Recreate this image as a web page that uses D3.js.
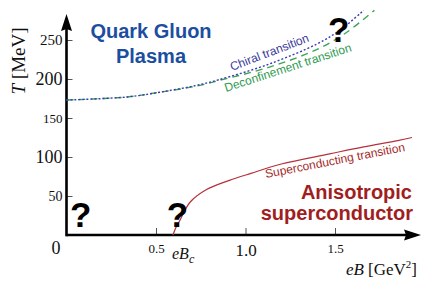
<!DOCTYPE html>
<html lang="en">
<head>
<meta charset="UTF-8">
<title>QCD phase diagram in magnetic field</title>
<style>
body{ margin:0; background:#fff; }
svg{ display:block; }
.serif{ font-family:"Liberation Serif","Times New Roman",serif; fill:#111; }
.sans{ font-family:"Liberation Sans",Arial,sans-serif; }
.tick line{ stroke:#555; stroke-width:1px; }
.tick text{ font-family:"Liberation Serif","Times New Roman",serif; fill:#111; }
</style>
</head>
<body>
<script src="https://cdn.jsdelivr.net/npm/d3@7"></script>
<script>
// ---- data ----
var chiralEB = [0, 0.34, 0.52, 0.73, 0.85, 1.13, 1.40, 1.53, 1.66];
var chiralT  = [173, 177, 183, 192, 199, 219, 245, 263, 288];
var deconfEB = [0, 0.34, 0.52, 0.73, 0.85, 1.13, 1.40, 1.56, 1.72];
var deconfT  = [173, 177, 183, 191, 198, 215, 238, 259, 288];
var superEB  = [0.595, 0.61, 0.634, 0.69, 0.78, 0.91, 1.03, 1.2, 1.47, 1.66, 1.85, 1.93];
var superT   = [0, 9, 19, 42, 58, 70, 79, 91, 104, 113, 121, 125];

var yTicks = [50, 100, 150, 200, 250];
var yTickSize = [14, 18, 13, 18, 15];
var xTicks = [0.5, 1.0, 1.5];
var xTickLabels = ["0.5", "1.0", "1.5"];
var xTickSize = [13, 17, 13];
// [eB, T] of the baseline centre of each "?"
var questionMarks = [[1.52, 247], [0.08, 10], [0.62, 10]];

var W = 436, H = 288;
var x = d3.scaleLinear().domain([0, 1]).range([66.5, 245.5]);
var y = d3.scaleLinear().domain([0, 250]).range([235, 40]);

var svg = d3.select("body").append("svg").attr("width", W).attr("height", H);

// ---- axes ----
var gy = svg.append("g").attr("transform", "translate(" + x(0) + ",0)")
	.call(d3.axisLeft(y).tickValues(yTicks).tickSizeInner(-6).tickSizeOuter(0).tickPadding(4));
gy.select(".domain").remove();
gy.selectAll(".tick text").style("font-size", function(d, i){ return yTickSize[i] + "px"; });

var gx = svg.append("g").attr("transform", "translate(0," + y(0) + ")")
	.call(d3.axisBottom(x).tickValues(xTicks).tickFormat(function(d, i){ return xTickLabels[i]; })
		.tickSizeInner(-7).tickSizeOuter(0).tickPadding(9));
gx.select(".domain").remove();
gx.selectAll(".tick text").style("font-size", function(d, i){ return xTickSize[i] + "px"; });

// thick axis lines with arrow heads
var ax = svg.append("g");
ax.append("line").attr("x1", x(0)).attr("y1", y(0)).attr("x2", 408).attr("y2", y(0))
	.attr("stroke", "#000").attr("stroke-width", 2.6);
ax.append("line").attr("x1", x(0)).attr("y1", y(0) + 1.3).attr("x2", x(0)).attr("y2", 28)
	.attr("stroke", "#000").attr("stroke-width", 2.6);
ax.append("path").attr("d", "M421," + y(0) + " L404," + (y(0) - 5.5) + " L406," + y(0) + " L404," + (y(0) + 5.5) + "Z").attr("fill", "#000");
ax.append("path").attr("d", "M" + x(0) + ",14 L" + (x(0) - 5.5) + ",31 L" + x(0) + ",29 L" + (x(0) + 5.5) + ",31Z").attr("fill", "#000");

svg.append("text").attr("class", "serif").attr("x", 56).attr("y", 254)
	.attr("text-anchor", "middle").style("font-size", "18px").text("0");

// axis titles
var xt = svg.append("text").attr("class", "serif").attr("x", 417).attr("y", 275)
	.attr("text-anchor", "end").style("font-size", "17px");
xt.append("tspan").style("font-style", "italic").text("eB");
xt.append("tspan").text(" [GeV");
xt.append("tspan").attr("dy", -7).style("font-size", "11px").text("2");
xt.append("tspan").attr("dy", 7).text("]");

var yt = svg.append("text").attr("class", "serif")
	.attr("transform", "translate(25,61) rotate(-90)")
	.attr("text-anchor", "middle").style("font-size", "19px");
yt.append("tspan").style("font-style", "italic").text("T");
yt.append("tspan").text(" [MeV]");

var ebc = svg.append("text").attr("class", "serif").attr("x", 172).attr("y", 259)
	.style("font-size", "16px").style("font-style", "italic");
ebc.append("tspan").text("eB");
ebc.append("tspan").attr("dy", 4).style("font-size", "12px").text("c");

// ---- curves ----
function pts(a, b){ return a.map(function(d, i){ return [d, b[i]]; }); }
var line = d3.line().x(function(d){ return x(d[0]); }).y(function(d){ return y(d[1]); })
	.curve(d3.curveCatmullRom.alpha(0.5));

svg.append("path").attr("d", line(pts(deconfEB, deconfT)))
	.attr("fill", "none").attr("stroke", "#3aa655").attr("stroke-width", 1.4)
	.attr("stroke-dasharray", "7,5");
svg.append("path").attr("d", line(pts(chiralEB, chiralT)))
	.attr("fill", "none").attr("stroke", "#3c3cb0").attr("stroke-width", 1.4)
	.attr("stroke-dasharray", "2,2");
svg.append("path").attr("d", line(pts(superEB, superT)))
	.attr("fill", "none").attr("stroke", "#b5303c").attr("stroke-width", 1.2);

// ---- curve labels ----
svg.append("text").attr("class", "sans").attr("transform", "translate(232,71) rotate(-21)")
	.style("font-size", "12px").attr("fill", "#3b3b9b").text("Chiral transition");
svg.append("text").attr("class", "sans").attr("transform", "translate(226,92) rotate(-18)")
	.style("font-size", "12px").attr("fill", "#2f9a4f").text("Deconfinement transition");
svg.append("text").attr("class", "sans").attr("transform", "translate(266,178) rotate(-11)")
	.style("font-size", "12px").attr("fill", "#a52a2a").text("Superconducting transition");

// ---- region labels ----
var qgp = svg.append("text").attr("class", "sans").attr("text-anchor", "middle")
	.style("font-size", "20px").style("font-weight", "bold").attr("fill", "#1c4ea0");
qgp.append("tspan").attr("x", 151).attr("y", 38).text("Quark Gluon");
qgp.append("tspan").attr("x", 151).attr("y", 63).text("Plasma");

var sc = svg.append("text").attr("class", "sans").attr("text-anchor", "end")
	.style("font-size", "20px").style("font-weight", "bold").attr("fill", "#a01e1e");
sc.append("tspan").attr("x", 412).attr("y", 199).text("Anisotropic");
sc.append("tspan").attr("x", 413).attr("y", 220).text("superconductor");

svg.selectAll("text.q").data(questionMarks).enter().append("text")
	.attr("class", "q sans").attr("text-anchor", "middle")
	.attr("x", function(d){ return x(d[0]); }).attr("y", function(d){ return y(d[1]); })
	.style("font-size", "35px").style("font-weight", "bold").attr("fill", "#000").text("?");
</script>
</body>
</html>
